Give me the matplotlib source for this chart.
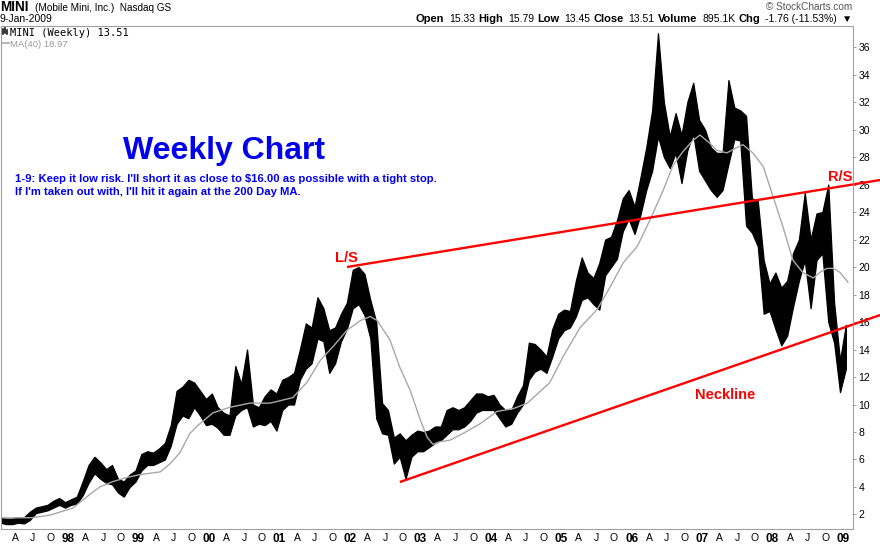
import matplotlib
matplotlib.use("Agg")
import matplotlib.pyplot as plt
from matplotlib.lines import Line2D
import numpy as np

# ── Data (monthly high / low) ────────────────────────────────────────
first_year = 1997
month_high = [
    1.8, 1.7, 1.7, 1.8, 1.8, 2.2, 2.5, 2.6, 2.7, 3.0, 3.2, 2.9,            # 1997
    3.1, 3.3, 4.4, 5.6, 6.2, 5.8, 5.3, 5.6, 4.6, 4.4, 4.9, 5.2,            # 1998
    6.4, 6.6, 6.5, 6.8, 7.2, 8.5, 11.0, 11.3, 11.8, 11.6, 11.0, 10.4,      # 1999
    10.8, 9.8, 9.4, 9.2, 12.8, 11.5, 14.0, 10.0, 9.8, 10.6, 11.1, 10.8,    # 2000
    11.8, 12.0, 12.3, 14.0, 15.9, 15.6, 17.8, 17.0, 15.4, 15.6, 16.6, 17.4,  # 2001
    19.8, 20.0, 19.5, 17.6, 16.0, 10.1, 9.6, 7.6, 7.9, 7.4, 7.8, 8.1,      # 2002
    8.0, 8.1, 8.4, 8.4, 9.6, 9.8, 9.6, 9.8, 10.3, 10.8, 10.8, 10.6,        # 2003
    10.7, 10.0, 9.6, 9.6, 10.6, 11.4, 14.5, 14.4, 14.0, 13.5, 15.5, 16.6,  # 2004
    16.9, 16.8, 19.0, 20.7, 19.6, 19.2, 20.3, 22.0, 22.2, 23.4, 25.0, 25.6,  # 2005
    24.4, 26.5, 28.7, 31.4, 37.0, 32.0, 29.5, 31.2, 29.6, 32.0, 33.4, 30.7,  # 2006
    30.0, 28.7, 28.3, 28.3, 33.6, 31.6, 31.4, 31.0, 25.0, 24.8, 20.5, 18.8,  # 2007
    19.6, 18.5, 19.0, 21.0, 22.0, 25.4, 22.0, 23.9, 24.0, 26.0, 17.4, 13.2,  # 2008
    15.8,                                                                   # 2009
]
month_low = [
    1.4, 1.3, 1.3, 1.4, 1.35, 1.6, 2.1, 2.2, 2.3, 2.5, 2.7, 2.5,           # 1997
    2.7, 2.8, 3.4, 4.3, 5.0, 4.6, 4.3, 4.2, 3.6, 3.3, 4.0, 4.4,            # 1998
    5.2, 5.6, 5.6, 5.8, 6.0, 7.0, 8.6, 9.2, 9.0, 9.8, 9.2, 8.5,            # 1999
    8.6, 8.3, 7.8, 7.8, 9.2, 9.6, 9.8, 8.4, 8.6, 8.5, 8.8, 8.1,            # 2000
    9.6, 10.0, 10.0, 11.8, 12.6, 13.0, 14.8, 14.6, 12.3, 13.0, 14.6, 15.5,  # 2001
    17.0, 17.3, 16.5, 14.8, 9.0, 7.9, 7.8, 5.7, 6.2, 4.6, 6.2, 6.6,       # 2002
    6.6, 6.9, 7.2, 7.4, 7.8, 8.2, 8.2, 8.4, 8.8, 9.4, 9.6, 9.6,            # 2003
    9.6, 9.0, 8.4, 8.6, 9.4, 10.0, 11.8, 12.4, 12.6, 12.3, 13.5, 14.8,     # 2004
    15.4, 15.6, 16.4, 17.6, 17.8, 17.3, 16.9, 19.4, 20.0, 20.6, 22.6, 23.5,  # 2005
    22.4, 23.8, 25.6, 27.0, 29.5, 28.0, 27.2, 28.3, 26.1, 28.5, 29.7, 27.0,  # 2006
    26.3, 25.6, 25.1, 25.6, 27.5, 29.3, 29.2, 23.0, 22.5, 21.5, 16.6, 16.8,  # 2007
    15.5, 14.3, 15.0, 17.1, 19.0, 20.5, 17.0, 20.5, 21.0, 16.0, 14.5, 10.9,  # 2008
    12.6,                                                                   # 2009
]

# 40-week moving average (decimal year, value)
ma_year = [1997.04, 1997.50, 1997.75, 1998.07, 1998.27, 1998.45, 1998.64, 1998.84,
           1999.02, 1999.31, 1999.45, 1999.59, 1999.73, 1999.87, 2000.06, 2000.30,
           2000.58, 2000.87, 2001.19, 2001.39, 2001.58, 2001.76, 2001.96, 2002.15,
           2002.29, 2002.39, 2002.57, 2002.71, 2002.86, 2003.00, 2003.10, 2003.18,
           2003.28, 2003.42, 2003.61, 2003.85, 2004.09, 2004.32, 2004.52, 2004.84,
           2005.03, 2005.27, 2005.51, 2005.69, 2005.88, 2006.08, 2006.26, 2006.45,
           2006.59, 2006.73, 2006.87, 2006.97, 2007.11, 2007.21, 2007.35, 2007.50,
           2007.58, 2007.72, 2007.87, 2008.01, 2008.15, 2008.29, 2008.43, 2008.58,
           2008.67, 2008.77, 2008.86, 2008.96, 2009.07]
ma_value = [1.75, 1.77, 1.96, 2.47, 3.3, 4.0, 4.4, 4.7,
            4.9, 5.1, 5.7, 6.5, 7.9, 8.6, 9.4, 9.8,
            10.1, 10.1, 10.5, 11.6, 13.2, 14.2, 15.4, 16.1,
            16.4, 16.1, 14.7, 12.7, 11.0, 8.9, 7.6, 7.1,
            7.3, 7.4, 7.9, 8.6, 9.5, 9.7, 10.1, 11.6,
            13.5, 15.6, 16.9, 18.5, 20.3, 21.5, 23.4, 25.6,
            27.4, 28.4, 29.2, 29.6, 29.0, 28.5, 28.3, 28.7,
            28.9, 28.3, 27.3, 25.1, 22.9, 20.5, 19.6, 19.2,
            19.6, 19.9, 19.9, 19.6, 18.9]

# hand-drawn pattern lines (decimal year, price)
shoulder_line = ([2001.96, 2009.53], [20.0, 26.33])
neck_line = ([2002.71, 2009.53], [4.36, 16.51])

y_ticks = list(range(2, 37, 2))

# ── Style ────────────────────────────────────────────────────────────
W, H = 880, 545
SANS = ["Liberation Sans", "DejaVu Sans"]
C_FRAME = "#a0a0a0"
C_MA = "#a8a8a8"
C_RED = "#ff0000"
C_BLUE = "#0000ee"


def px(x, y):
    """figure pixel (from top-left) -> figure fraction"""
    return x / W, 1 - y / H


fig = plt.figure(figsize=(W / 100, H / 100), dpi=100)
fig.patch.set_facecolor("white")
ax = fig.add_axes([1 / W, 16 / H, 852 / W, 503 / H])
ax.set_xlim(1997.049, 2009.143)
ax.set_ylim(0.945, 37.53)

# price bars + MA
month_x = first_year + (np.arange(len(month_high)) + 0.5) / 12
ax.fill_between(month_x, month_low, month_high, color="black", lw=0.9)
ax.plot(ma_year, ma_value, color=C_MA, lw=1.0)

# pattern lines (run over the price axis to the edge)
for xs, ys in (shoulder_line, neck_line):
    ax.plot(xs, ys, color=C_RED, lw=1.7, clip_on=False, solid_capstyle="butt")

ax.text(2001.946, 20.65, "L/S", color=C_RED, fontsize=10.5, fontweight="bold",
        family=SANS, ha="center", va="center")
ax.text(2008.958, 26.55, "R/S", color=C_RED, fontsize=10.5, fontweight="bold",
        family=SANS, ha="center", va="center", clip_on=False)
ax.text(2007.326, 10.69, "Neckline", color=C_RED, fontsize=10.5, fontweight="bold",
        family=SANS, ha="center", va="center")

# frame and axes
for sp in ax.spines.values():
    sp.set_color(C_FRAME)
    sp.set_linewidth(0.8)
ax.yaxis.tick_right()
ax.set_yticks(y_ticks)
ax.set_yticklabels([str(v) for v in y_ticks], family=SANS, fontsize=7.5)
ax.tick_params(axis="y", direction="out", length=2.5, width=0.7, color=C_FRAME,
               pad=1.5, labelcolor="black")

xt, xl, xb = [], [], []
for yr in range(first_year, 2010):
    if yr > first_year:
        xt.append(yr)
        xl.append(f"{yr % 100:02d}")
        xb.append(True)
    if yr < 2009:
        for off, m in ((0.25, "A"), (0.5, "J"), (0.75, "O")):
            xt.append(yr + off)
            xl.append(m)
            xb.append(False)
ax.set_xticks(xt)
ax.set_xticklabels(xl, family=SANS, fontsize=7.5)
for lab, b in zip(ax.get_xticklabels(), xb):
    lab.set_fontweight("bold" if b else "normal")
    if b:
        lab.set_fontsize(8.5)
ax.tick_params(axis="x", length=0, pad=3)

# ── Annotations ──────────────────────────────────────────────────────
fig.text(*px(224, 159), "Weekly Chart", color=C_BLUE, fontsize=23,
         fontweight="bold", family=SANS, ha="center", va="baseline")
fig.text(*px(15, 182), "1-9: Keep it low risk. I'll short it as close to $16.00 "
         "as possible with a tight stop.", color=C_BLUE, fontsize=8.1,
         fontweight="bold", family=SANS, va="baseline")
fig.text(*px(15, 195), "If I'm taken out with, I'll hit it again at the 200 Day MA.",
         color=C_BLUE, fontsize=8.1, fontweight="bold", family=SANS, va="baseline")

# ── Header ───────────────────────────────────────────────────────────
fig.text(*px(0, 11), "MINI", fontsize=9.8, fontweight="bold", family=SANS,
         va="baseline")
fig.text(*px(35, 11), "(Mobile Mini, Inc.)  Nasdaq GS", fontsize=7.2,
         family=SANS, va="baseline")
fig.text(*px(0, 22), "9-Jan-2009", fontsize=7.5, family=SANS, va="baseline")
fig.text(*px(852, 10), "\u00a9 StockCharts.com", fontsize=7.2, color="#555555",
         family=SANS, ha="right", va="baseline")

pieces = [("Open", True), ("15.33", False), ("High", True), ("15.79", False),
          ("Low", True), ("13.45", False), ("Close", True), ("13.51", False),
          ("Volume", True), ("895.1K", False), ("Chg", True),
          ("-1.76 (-11.53%)", False), ("\u25bc", False)]
renderer = fig.canvas.get_renderer()
x = 852
for s, bold in reversed(pieces):
    t = fig.text(*px(x, 22), s, fontsize=8 if bold else 7.5,
                 fontweight="bold" if bold else "normal", family=SANS,
                 ha="right", va="baseline", color="black")
    w = t.get_window_extent(renderer=renderer).width
    x -= w + (3 if bold else 5)

# legend inside the panel
for dx, y0, y1 in ((2.5, 29, 34), (4.5, 28, 33), (6.5, 30, 34)):
    fig.add_artist(Line2D([dx / W, dx / W], [1 - y0 / H, 1 - y1 / H],
                          color="black", lw=1.1))
fig.text(*px(10, 36), "MINI (Weekly) 13.51", fontsize=7.5,
         family=["DejaVu Sans Mono"], va="baseline")
fig.add_artist(Line2D([2 / W, 9 / W], [1 - 43 / H, 1 - 43 / H], color=C_MA, lw=1.2))
fig.text(*px(10, 47), "MA(40) 18.97", fontsize=6.8, color="#999999",
         family=SANS, va="baseline")

fig.savefig("out.png", dpi=100, facecolor="white")
